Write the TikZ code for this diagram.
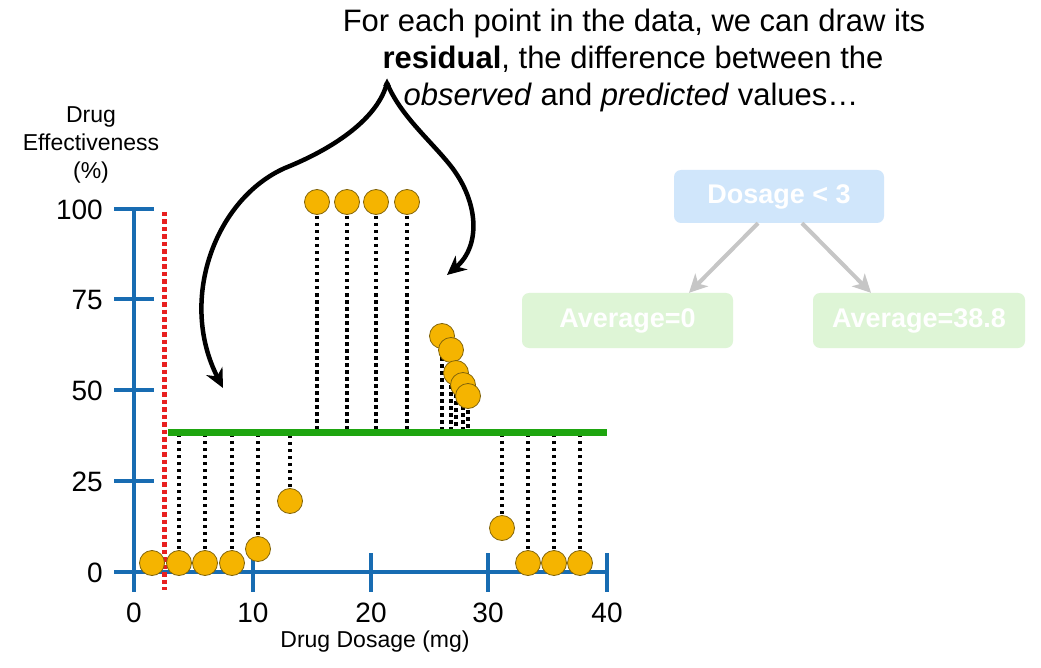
\documentclass[tikz,border=0pt]{standalone}
\usepackage{fontspec}
\setmainfont{Liberation Sans}
\usetikzlibrary{arrows.meta}
\definecolor{axblue}{RGB}{24,108,178}
\definecolor{ptorange}{RGB}{245,180,0}
\definecolor{ptedge}{RGB}{130,100,10}
\definecolor{fitgreen}{RGB}{30,165,15}
\definecolor{thrred}{RGB}{232,32,32}
\definecolor{rootblue}{RGB}{208,230,251}
\definecolor{leafgreen}{RGB}{222,245,214}
\definecolor{treegray}{RGB}{198,198,198}
\tikzset{
  pt/.style={circle,fill=ptorange,draw=ptedge,line width=0.8pt,minimum size=25pt,inner sep=0pt},
  resid/.style={line width=3.5pt,dash pattern=on 3.5pt off 3.5pt,black},
  axisline/.style={line width=4pt,axblue},
  ticklab/.style={inner sep=0pt,font=\fontsize{28}{30}\selectfont},
  axlab/.style={inner sep=0pt,font=\fontsize{23}{28}\selectfont,align=center},
  titlefont/.style={inner sep=0pt,anchor=base,font=\fontsize{31}{36}\selectfont},
  treebox/.style={rounded corners=7pt,inner sep=0pt,text=white,font=\fontsize{27}{30}\selectfont\bfseries},
  treearrow/.style={line width=4pt,treegray,-{Stealth[length=18pt,width=18pt,inset=5pt]}},
  bigarrow/.style={line width=4.5pt,black,-{Stealth[length=19pt,width=18pt,inset=6pt]}}
}
\begin{document}
\begin{tikzpicture}[x=1pt,y=-1pt]
\useasboundingbox (0,0) rectangle (1041,668);
\fill[white] (0,0) rectangle (1041,668);

% title text
\node[titlefont] (t1) at (634,32) {For each point in the data, we can draw its};
\node[titlefont] (t2) at (633,69) {\textbf{residual}, the difference between the};
\node[titlefont] (t3) at (631,106) {\textit{observed} and \textit{predicted} values\ldots};

% brace arrows
\coordinate (btip) at (387,83);
\coordinate (lmid) at (285,168);
\coordinate (lend) at (223,388);
\coordinate (rmid) at (450,165);
\coordinate (rend) at (447,275);
\draw[bigarrow] (btip) .. controls (400,115) and (430,140) .. (rmid)
  .. controls (478,200) and (482,245) .. (rend);
\draw[bigarrow] (btip) .. controls (378,118) and (335,148) .. (lmid)
  .. controls (215,199) and (178,300) .. (lend);
\fill[black] (383.2,86) -- (387,78.5) -- (390.8,86) -- cycle;

% axes
\draw[axisline] (134,209) -- (134,592);
\draw[axisline] (114,572) -- (607,572);
\foreach \yy in {209,299,390,481} \draw[axisline] (114,\yy) -- (154,\yy);
\foreach \xx in {253,371,488,607} \draw[axisline] (\xx,553) -- (\xx,592);

% tick labels
\node[ticklab,anchor=east] (y100) at (103,210) {100};
\node[ticklab,anchor=east] (y75) at (103,300) {75};
\node[ticklab,anchor=east] (y50) at (103,391) {50};
\node[ticklab,anchor=east] (y25) at (103,482) {25};
\node[ticklab,anchor=east] (y0) at (103,573) {0};
\node[ticklab] (x0) at (134,613) {0};
\node[ticklab] (x10) at (253,613) {10};
\node[ticklab] (x20) at (371,613) {20};
\node[ticklab] (x30) at (488,613) {30};
\node[ticklab] (x40) at (607,613) {40};
\node[axlab] (xlab) at (375,642) {Drug Dosage (mg)};
\node[axlab] (ylab) at (91,145) {Drug\\Effectiveness\\(\%)};

% threshold
\draw[line width=5pt,thrred,dash pattern=on 4.5pt off 3pt] (164,212) -- (164,590);

% point positions
\coordinate (c1) at (152,563);
\coordinate (c2) at (179,563);
\coordinate (c3) at (205,563);
\coordinate (c4) at (232,563);
\coordinate (c5) at (258,549);
\coordinate (c6) at (290,501);
\coordinate (c7) at (317,202);
\coordinate (c8) at (347,202);
\coordinate (c9) at (376,202);
\coordinate (c10) at (407,202);
\coordinate (c11) at (442,336);
\coordinate (c12) at (451,350);
\coordinate (c13) at (456,373);
\coordinate (c14) at (463,385);
\coordinate (c15) at (468,396);
\coordinate (c16) at (502,528);
\coordinate (c17) at (528,563);
\coordinate (c18) at (554,563);
\coordinate (c19) at (580,563);

% fitted line
\coordinate (g0) at (168,432);
\coordinate (g1) at (607,432);

% residuals
\foreach \i in {2,...,19} \draw[resid] (c\i) -- (c\i |- g0);

\draw[line width=7pt,fitgreen] (g0) -- (g1);

% points
\foreach \i in {1,...,19} \node[pt] (p\i) at (c\i) {};

% tree
\node[treebox,fill=rootblue,minimum width=210pt,minimum height=53pt] (root) at (779,196.5) {Dosage < 3};
\node[treebox,fill=leafgreen,minimum width=211pt,minimum height=55pt] (leafL) at (627.5,320.5) {Average=0};
\node[treebox,fill=leafgreen,minimum width=212pt,minimum height=55pt] (leafR) at (919,320.5) {Average=38.8};
\draw[treearrow] ([xshift=-21pt]root.south) -- ([xshift=61.5pt]leafL.north);
\draw[treearrow] ([xshift=23pt]root.south) -- ([xshift=-48pt]leafR.north);
\end{tikzpicture}
\end{document}
